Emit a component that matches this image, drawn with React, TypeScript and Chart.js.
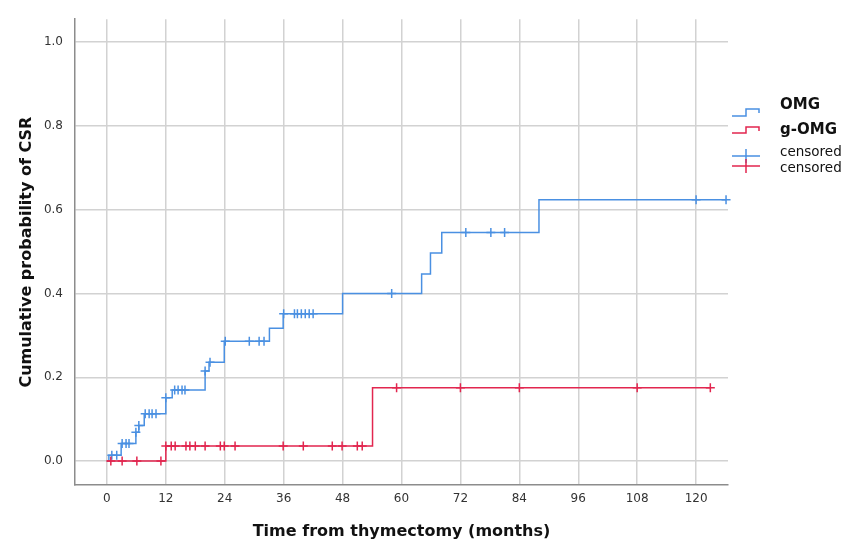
import React, { useEffect, useRef } from 'react';
import { Chart, registerables } from 'chart.js';

Chart.register(...registerables);

// OMG Kaplan-Meier cumulative curve (event times, value after step)
const omgTimes = [0, 0.4, 2.9, 5.9, 6.5, 7.6, 12, 13.3, 20, 20.8, 23.9, 33.1, 35.9, 48, 64.1, 65.9, 68.2, 88, 126.1];
const omgValues = [0, 0.014, 0.042, 0.069, 0.085, 0.113, 0.151, 0.17, 0.215, 0.236, 0.286, 0.317, 0.352, 0.4, 0.447, 0.497, 0.546, 0.624, 0.624];
const omgCensorTimes = [1, 2, 3.1, 3.9, 4.5, 5.9, 6.5, 7.8, 8.6, 9.2, 10, 12, 13.8, 14.5, 15.3, 15.9, 20, 21, 24.1, 29, 31, 32, 36, 38.2, 38.8, 39.6, 40.4, 41.2, 42, 58, 73.1, 78.2, 81, 120, 126.1];
const omgCensorValues = [0.014, 0.014, 0.042, 0.042, 0.042, 0.069, 0.085, 0.113, 0.113, 0.113, 0.113, 0.151, 0.17, 0.17, 0.17, 0.17, 0.215, 0.236, 0.286, 0.286, 0.286, 0.286, 0.352, 0.352, 0.352, 0.352, 0.352, 0.352, 0.352, 0.4, 0.546, 0.546, 0.546, 0.624, 0.624];

// g-OMG curve
const gomgTimes = [0, 12, 54.1, 122.9];
const gomgValues = [0, 0.036, 0.175, 0.175];
const gomgCensorTimes = [0.8, 3.1, 6.1, 11, 12, 13.1, 13.9, 16.1, 16.9, 18, 20, 23.1, 23.9, 26.1, 35.9, 40, 45.9, 47.9, 51, 52, 59, 72, 84, 108, 122.9];
const gomgCensorValues = [0, 0, 0, 0, 0.036, 0.036, 0.036, 0.036, 0.036, 0.036, 0.036, 0.036, 0.036, 0.036, 0.036, 0.036, 0.036, 0.036, 0.036, 0.036, 0.175, 0.175, 0.175, 0.175, 0.175];

const xTicks = [0, 12, 24, 36, 48, 60, 72, 84, 96, 108, 120];
const yTicks = [0, 0.2, 0.4, 0.6, 0.8, 1.0];

const BLUE = '#4a90e2';
const RED = '#e2264f';
const FONT = "'DejaVu Sans', sans-serif";

const pts = (xs: number[], ys: number[]) => xs.map((x, i) => ({ x, y: ys[i] }));

export default function App() {
  const ref = useRef<HTMLCanvasElement | null>(null);

  useEffect(() => {
    document.body.style.margin = '0';
    if (!ref.current) return;
    const chart = new Chart(ref.current, {
      type: 'line',
      data: {
        datasets: [
          {
            label: 'g-OMG',
            data: pts(gomgTimes, gomgValues),
            borderColor: RED,
            borderWidth: 1.5,
            stepped: 'before',
            pointRadius: 0,
            fill: false,
          },
          {
            label: 'censored',
            data: pts(gomgCensorTimes, gomgCensorValues),
            borderColor: RED,
            backgroundColor: RED,
            showLine: false,
            pointStyle: 'cross',
            pointRadius: 4.5,
            pointBorderWidth: 1.5,
            clip: false,
          },
          {
            label: 'OMG',
            data: pts(omgTimes, omgValues),
            borderColor: BLUE,
            borderWidth: 1.5,
            stepped: 'before',
            pointRadius: 0,
            fill: false,
          },
          {
            label: 'censored',
            data: pts(omgCensorTimes, omgCensorValues),
            borderColor: BLUE,
            backgroundColor: BLUE,
            showLine: false,
            pointStyle: 'cross',
            pointRadius: 4.5,
            pointBorderWidth: 1.5,
            clip: false,
          },
        ],
      },
      options: {
        responsive: false,
        animation: false,
        layout: { padding: { left: 0, right: 120, top: 15, bottom: 0 } },
        plugins: { legend: { display: false }, tooltip: { enabled: false } },
        scales: {
          x: {
            type: 'linear',
            min: -6.5,
            max: 126.5,
            afterBuildTicks: (s: any) => {
              s.ticks = xTicks.map((v) => ({ value: v }));
            },
            afterFit: (s: any) => {
              s.height = 56;
            },
            ticks: {
              padding: 7,
              color: '#333',
              font: { family: FONT, size: 12 },
              callback: (v: any) => String(v),
              maxRotation: 0,
            },
            grid: { color: '#d2d2d2', lineWidth: 1.5, drawTicks: false },
            border: { display: true, color: '#8c8c8c', width: 1.5 },
            title: {
              display: true,
              text: 'Time from thymectomy (months)',
              color: '#111',
              font: { family: FONT, size: 16, weight: 'bold' },
              padding: { top: 0, bottom: 0 },
            },
          },
          y: {
            type: 'linear',
            min: -0.057,
            max: 1.055,
            afterBuildTicks: (s: any) => {
              s.ticks = yTicks.map((v) => ({ value: v }));
            },
            afterFit: (s: any) => {
              s.width = 75;
            },
            ticks: {
              padding: 12,
              color: '#333',
              font: { family: FONT, size: 12 },
              callback: (v: any) => Number(v).toFixed(1),
            },
            grid: { color: '#d2d2d2', lineWidth: 1.5, drawTicks: false },
            border: { display: true, color: '#8c8c8c', width: 1.5 },
            title: {
              display: true,
              text: 'Cumulative probability of CSR',
              color: '#111',
              font: { family: FONT, size: 16, weight: 'bold' },
              padding: { top: 17, bottom: 0 },
            },
          },
        },
      },
    });
    return () => chart.destroy();
  }, []);

  const textStyle = (top: number, size: number, bold: boolean): React.CSSProperties => ({
    position: 'absolute',
    left: 780,
    top,
    fontFamily: FONT,
    fontSize: size,
    fontWeight: bold ? 'bold' : 'normal',
    color: '#111',
    lineHeight: '1',
    whiteSpace: 'nowrap',
  });

  return (
    <div style={{ position: 'relative', width: 848, height: 541, background: '#fff' }}>
      <canvas ref={ref} width={848} height={541} style={{ display: 'block' }} />
      <svg
        width={848}
        height={541}
        style={{ position: 'absolute', left: 0, top: 0, pointerEvents: 'none' }}
      >
        <path d="M732 116 H746 V109 H759 V113" fill="none" stroke={BLUE} strokeWidth={1.5} />
        <path d="M732 133 H746 V127 H759 V131" fill="none" stroke={RED} strokeWidth={1.5} />
        <path d="M732 156 H760 M746 149 V163" fill="none" stroke={BLUE} strokeWidth={1.5} />
        <path d="M732 166 H760 M746 159 V173" fill="none" stroke={RED} strokeWidth={1.5} />
      </svg>
      <div style={textStyle(97, 15, true)}>OMG</div>
      <div style={textStyle(122, 15, true)}>g-OMG</div>
      <div style={textStyle(145, 13.5, false)}>censored</div>
      <div style={textStyle(161, 13.5, false)}>censored</div>
    </div>
  );
}
